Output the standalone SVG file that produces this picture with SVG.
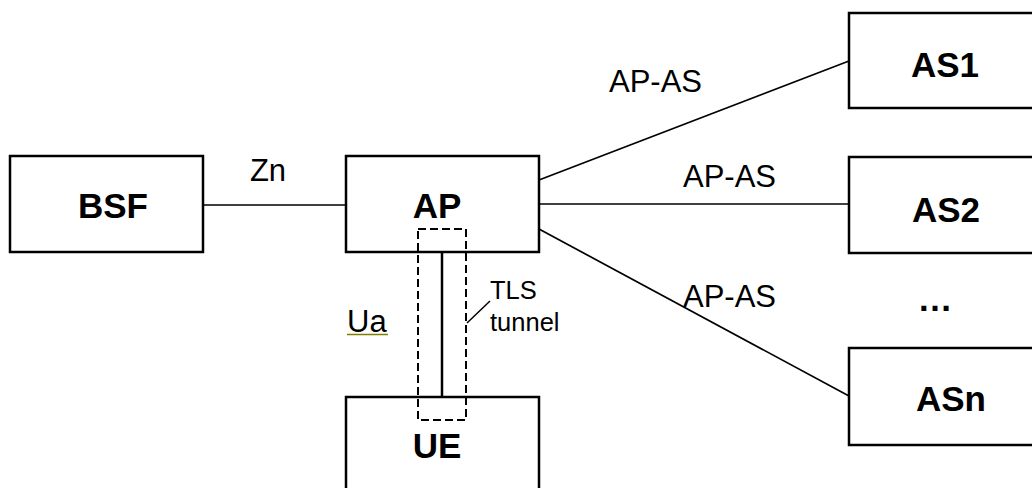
<svg xmlns="http://www.w3.org/2000/svg" width="1032" height="488" viewBox="0 0 1032 488">
<style>
.box{fill:#fff;stroke:#000;stroke-width:2.5}
.bold{font-family:"Liberation Sans",Arial,sans-serif;font-weight:bold;font-size:35px;fill:#000;text-anchor:middle}
.lbl{font-family:"Liberation Sans",Arial,sans-serif;font-size:31px;fill:#000}
.small{font-family:"Liberation Sans",Arial,sans-serif;font-size:25.5px;fill:#000}
.conn{stroke:#000;stroke-width:1.7;fill:none}
</style>
<rect width="1032" height="488" fill="#fff"/>
<g id="connectors">
<line class="conn" x1="203" y1="205" x2="346" y2="205"/>
<line class="conn" x1="539" y1="180" x2="849" y2="61"/>
<line class="conn" x1="539" y1="204" x2="849" y2="204"/>
<line class="conn" x1="539" y1="229" x2="849" y2="396"/>
<line x1="442" y1="252" x2="442" y2="397" stroke="#000" stroke-width="2.5"/>
</g>
<g id="BSF"><rect class="box" x="10" y="156" width="193" height="96"/><text class="bold" x="113" y="218">BSF</text></g>
<g id="AP"><rect class="box" x="346" y="156" width="193" height="96"/><text class="bold" x="437" y="218">AP</text></g>
<g id="UE"><rect class="box" x="346" y="397" width="193" height="100"/><text class="bold" x="437" y="458">UE</text></g>
<g id="AS1"><rect class="box" x="849" y="13" width="195" height="95"/><text class="bold" x="945" y="77">AS1</text></g>
<g id="AS2"><rect class="box" x="849" y="157" width="195" height="96"/><text class="bold" x="946" y="222">AS2</text></g>
<g id="ASn"><rect class="box" x="849" y="348" width="195" height="97"/><text class="bold" x="951" y="411">ASn</text></g>
<g id="dots"><text class="bold" x="935" y="311">…</text></g>
<g id="labels">
<text class="lbl" x="268" y="181" text-anchor="middle" font-size="28">Zn</text>
<text class="lbl" x="609" y="92">AP-AS</text>
<text class="lbl" x="683" y="187">AP-AS</text>
<text class="lbl" x="683" y="307">AP-AS</text>
<text class="lbl" x="347" y="332">Ua</text>
<line x1="347" y1="334.5" x2="388" y2="334.5" stroke="#808000" stroke-width="1.6"/>
<text class="small" x="490" y="299">TLS</text>
<text class="small" x="490" y="331">tunnel</text>
</g>
<g id="tls-tunnel">
<rect x="418" y="229" width="48" height="191" fill="none" stroke="#000" stroke-width="2" stroke-dasharray="8,4"/>
<line x1="467" y1="323" x2="490" y2="301" stroke="#000" stroke-width="1.5"/>
</g>
</svg>
